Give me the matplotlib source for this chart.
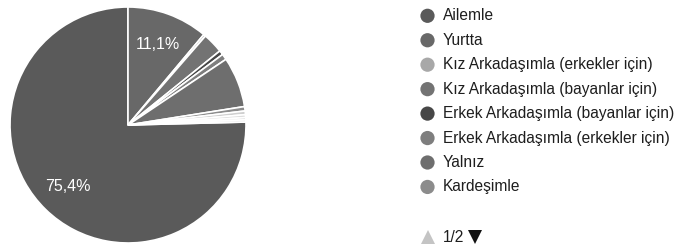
import matplotlib
matplotlib.use("Agg")
import matplotlib.pyplot as plt

plt.rcParams['font.family'] = ['Liberation Sans', 'DejaVu Sans']

# Data (percent shares), legend order
categories = ["Ailemle", "Yurtta", "Kız Arkadaşımla (erkekler için)",
              "Kız Arkadaşımla (bayanlar için)", "Erkek Arkadaşımla (bayanlar için)",
              "Erkek Arkadaşımla (erkekler için)", "Yalnız", "Kardeşimle"]
values = [75.4, 11.1, 0.3, 2.8, 0.6, 0.8, 6.9, 0.6]
colors = ["#5a5a5a", "#686868", "#a8a8a8", "#737373", "#474747", "#7e7e7e", "#6e6e6e", "#8c8c8c"]
# categories on legend page 2 (names not visible)
page2_values = [0.5, 0.4, 0.3, 0.3]
page2_colors = ["#cfcfcf", "#dddddd", "#d4d4d4", "#e4e4e4"]
page_label = "1/2"

W, H = 679, 246
fig = plt.figure(figsize=(W / 100, H / 100), dpi=100)

all_vals = values + page2_values
all_cols = colors + page2_colors
total = sum(all_vals)

# pie: centre (128,125) px, radius 118 px
R = 118
ax = fig.add_axes([(128 - R) / W, (H - 125 - R) / H, 2 * R / W, 2 * R / H])
start = 90 + 360 * values[0] / total
ax.pie(all_vals, colors=all_cols, startangle=start, counterclock=False,
       radius=1.0, wedgeprops=dict(edgecolor="white", linewidth=1.2),
       autopct=lambda p: (f"{p:.1f}%".replace(".", ",")) if p > 10 else "",
       pctdistance=0.73, textprops=dict(color="white", fontsize=11.5))
ax.set_xlim(-1.0, 1.0)
ax.set_ylim(-1.0, 1.0)
ax.set_aspect("equal")
ax.axis("off")

# legend in pixel coordinates
lax = fig.add_axes([0, 0, 1, 1])
lax.set_xlim(0, W)
lax.set_ylim(H, 0)
lax.axis("off")
y0, dy = 15.8, 24.45
for i, (name, col) in enumerate(zip(categories, colors)):
    y = y0 + i * dy
    lax.scatter([427.5], [y], s=105, color=col, edgecolors="none")
    lax.text(443, y, name, fontsize=11.2, color="#1e1e1e", va="center", ha="left")

yp = 237
lax.plot([427.5], [yp], marker="^", markersize=10, color="#c4c4c4", markeredgewidth=0)
lax.text(443, yp, page_label, fontsize=11.2, color="#1e1e1e", va="center", ha="left")
lax.plot([475], [yp], marker="v", markersize=10, color="#111111", markeredgewidth=0)

fig.savefig("out.png", dpi=100, facecolor="white")
